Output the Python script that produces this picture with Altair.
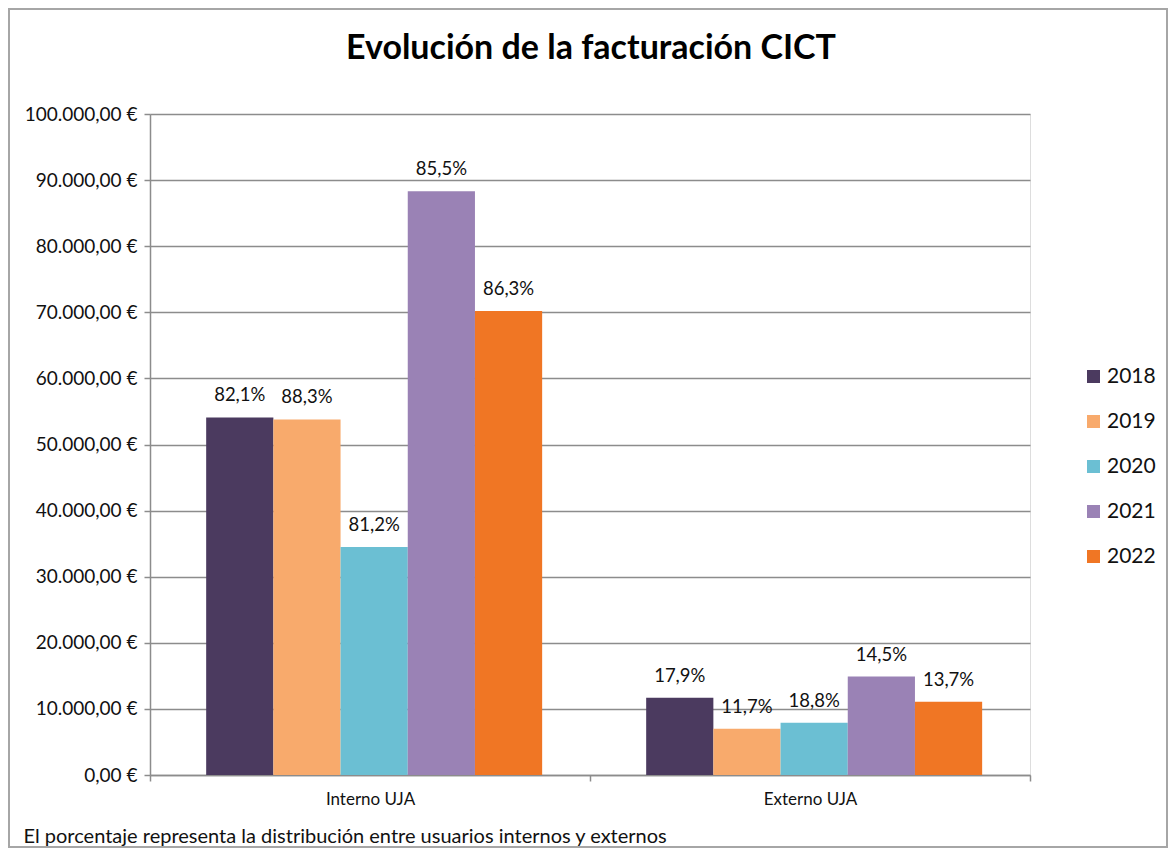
import altair as alt
import pandas as pd

years = ["2018", "2019", "2020", "2021", "2022"]
categories = ["Interno UJA", "Externo  UJA"]
interno = [54100, 53800, 34500, 88300, 70200]
externo = [11700, 7000, 7900, 14900, 11100]
interno_pct = ["82,1%", "88,3%", "81,2%", "85,5%", "86,3%"]
externo_pct = ["17,9%", "11,7%", "18,8%", "14,5%", "13,7%"]
colors = ["#4b3a5f", "#f8aa6c", "#6bbfd3", "#9a82b5", "#f07624"]
title_text = "Evolución de la facturación CICT"
note_text = "El porcentaje representa la distribución entre usuarios internos y externos"

rows = []
for cat, vals, pcts in [(categories[0], interno, interno_pct), (categories[1], externo, externo_pct)]:
    for y, v, p in zip(years, vals, pcts):
        rows.append({"cat": cat, "year": y, "value": v, "pct": p})
df = pd.DataFrame(rows)

FONT = "Lato"
GRID = "#8c8c8c"

x_enc = alt.X("cat:N", sort=categories,
              scale=alt.Scale(paddingInner=0, paddingOuter=0),
              axis=alt.Axis(title=note_text,
                            titleAnchor="start", titleAlign="left", titleBaseline="alphabetic",
                            titleX=-127, titleY=67, titleFontSize=20, titleFontWeight="normal",
                            titleColor="#111111", titleFont=FONT,
                            labelAngle=0, labelFontSize=17, labelColor="#111111", labelPadding=10,
                            tickBand="extent", tickSize=6, tickColor=GRID, tickWidth=1.5,
                            domainColor=GRID, domainWidth=1.5, grid=False))
xoff = alt.XOffset("year:N", sort=years,
                   scale=alt.Scale(paddingInner=0, paddingOuter=0.774, align=0.54))
y_enc = alt.Y("value:Q", scale=alt.Scale(domain=[0, 100000], nice=False),
              axis=alt.Axis(title=None, values=list(range(0, 100001, 10000)),
                            labelExpr="replace(replace(replace(format(datum.value, ',.2f'), ',', '#'), '.', ','), '#', '.') + ' €'",
                            labelFontSize=19, labelColor="#111111", labelPadding=7,
                            tickSize=6, tickColor=GRID, tickWidth=1.5,
                            domainColor=GRID, domainWidth=1.5,
                            grid=True, gridColor=GRID, gridWidth=1.5))

bars = alt.Chart(df).mark_bar().encode(
    x=x_enc, xOffset=xoff, y=y_enc,
    color=alt.Color("year:N", sort=years,
                    scale=alt.Scale(domain=years, range=colors),
                    legend=alt.Legend(title=None, orient="none", legendX=933, legendY=252,
                                      symbolType="square", symbolSize=169, symbolStrokeWidth=0,
                                      symbolOpacity=1, labelFontSize=21, labelColor="#111111",
                                      labelOffset=3, rowPadding=23, labelFont=FONT)),
)

labels = alt.Chart(df).mark_text(baseline="middle", dy=-22, fontSize=18.5, color="#111111", font=FONT).encode(
    x=alt.X("cat:N", sort=categories), xOffset=alt.XOffset("year:N", sort=years),
    y="value:Q", text="pct:N",
)

one = pd.DataFrame({"t": [title_text]})
border = alt.Chart(one).mark_rect(fill=None, stroke="#a6a6a6", strokeWidth=2).encode(
    x=alt.value(-141), x2=alt.value(1017), y=alt.value(-105), y2=alt.value(733),
)
title = alt.Chart(one).mark_text(fontSize=34, fontWeight="bold", font=FONT, color="#000000",
                                 align="center", baseline="alphabetic").encode(
    x=alt.value(441), y=alt.value(-55), text="t:N",
)

chart = alt.layer(border, bars, labels, title).properties(
    width=880, height=661,
    autosize=alt.AutoSizeParams(type="none"),
    padding={"left": 142, "top": 106, "right": 138, "bottom": 73},
).configure_view(stroke=None).configure(font=FONT)

chart.save("out.html", embed_options={"renderer": "svg", "actions": False})
